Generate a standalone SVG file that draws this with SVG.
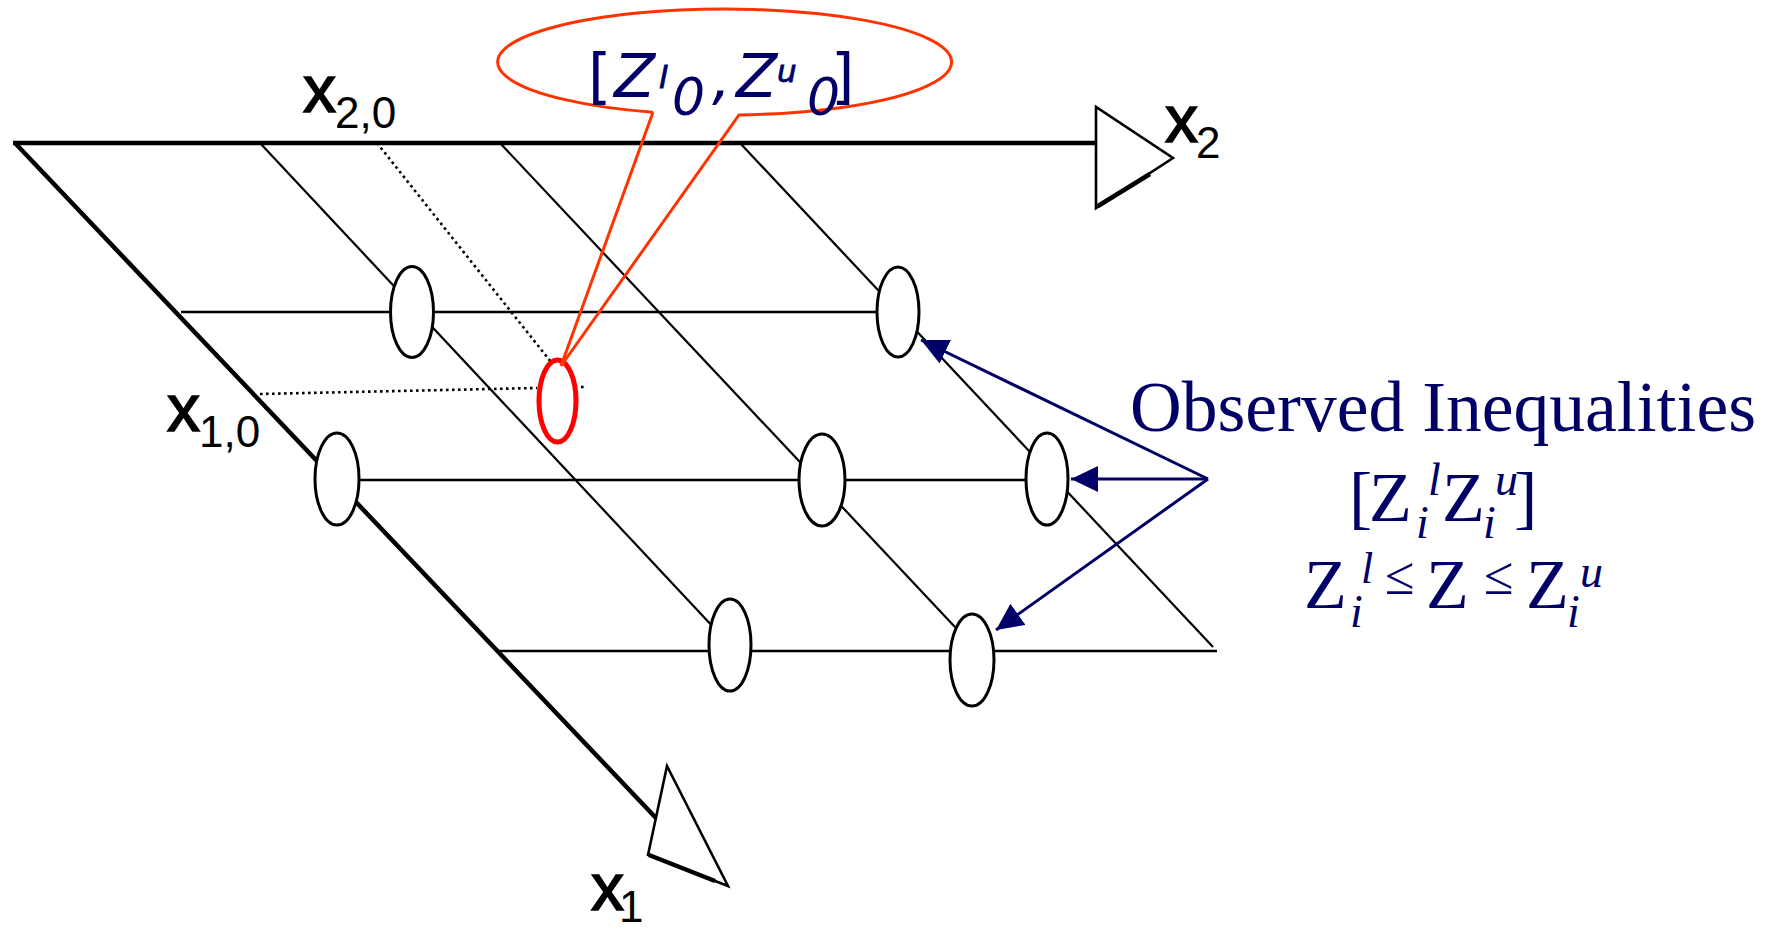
<svg xmlns="http://www.w3.org/2000/svg" width="1772" height="930" viewBox="0 0 1772 930">
<style>
.axis{stroke:#000;stroke-width:4.5;fill:none;stroke-linecap:butt}
.grid{stroke:#000;stroke-width:2.2;fill:none}
.row{stroke:#000;stroke-width:2.6;fill:none}
.dot{stroke:#000;stroke-width:2.6;fill:none;stroke-dasharray:2.6 3.4}
.node{fill:#fff;stroke:#000;stroke-width:3}
.tri{fill:#fff;stroke:#000;stroke-width:2.6;stroke-linejoin:miter}
.lbl{font-family:"Liberation Sans",Arial,sans-serif;fill:#000}
.bx{stroke:#000;stroke-width:1.6}
.nav{stroke:#000066;stroke-width:3;fill:none}
.serif{font-family:"Liberation Serif","Times New Roman",serif;fill:#000066}
.verd{font-family:"DejaVu Sans",Verdana,sans-serif;fill:#000066}
</style>
<defs>
<marker id="ah" markerUnits="userSpaceOnUse" markerWidth="30" markerHeight="28" refX="27" refY="13" orient="auto">
<path d="M0,0 L27,13 L0,26 Z" fill="#000066"/>
</marker>
</defs>
<rect width="1772" height="930" fill="#fff"/>

<g id="axes">
<line class="axis" x1="13" y1="143" x2="1096" y2="143"/>
<line class="axis" x1="15" y1="143" x2="656" y2="818"/>
<polygon class="tri" points="1096,107 1096,208 1173,158"/>
<line stroke="#000" stroke-width="4.5" x1="1098" y1="206" x2="1150" y2="174"/>
<polygon class="tri" points="667,766 648,855 728,886"/>
<line stroke="#000" stroke-width="4.5" x1="649" y1="855" x2="715" y2="881"/>
</g>

<g id="connectors">
<line class="row" x1="181" y1="312" x2="878" y2="312"/>
<line class="row" x1="334" y1="480" x2="1047" y2="480"/>
<line class="row" x1="497" y1="651" x2="1217" y2="651"/>
<line class="grid" x1="260" y1="143" x2="730" y2="645"/>
<line class="grid" x1="500" y1="143" x2="986" y2="660"/>
<line class="grid" x1="740" y1="143" x2="1213" y2="647"/>
<line class="dot" x1="377" y1="143" x2="551" y2="362"/>
<line class="dot" x1="260" y1="394" x2="537" y2="388"/>
<line class="dot" x1="581" y1="387" x2="585" y2="387"/>
<line class="nav" x1="1208" y1="479" x2="921" y2="340" marker-end="url(#ah)"/>
<line class="nav" x1="1208" y1="479" x2="1071" y2="479" marker-end="url(#ah)"/>
<line class="nav" x1="1208" y1="479" x2="996" y2="630" marker-end="url(#ah)"/>
</g>

<g id="node-r1-left"><ellipse class="node" cx="412" cy="312" rx="21.5" ry="45.5"/></g>
<g id="node-r1-right"><ellipse class="node" cx="898" cy="312" rx="21" ry="45"/></g>
<g id="node-r2-left"><ellipse class="node" cx="337" cy="479" rx="22" ry="46"/></g>
<g id="node-r2-mid"><ellipse class="node" cx="822" cy="480" rx="23" ry="46"/></g>
<g id="node-r2-right"><ellipse class="node" cx="1047" cy="479" rx="21" ry="46"/></g>
<g id="node-r3-left"><ellipse class="node" cx="730" cy="645" rx="21" ry="46"/></g>
<g id="node-r3-right"><ellipse class="node" cx="972" cy="660" rx="22" ry="46"/></g>
<g id="node-target"><ellipse cx="557.5" cy="401" rx="18.5" ry="41" fill="none" stroke="#ff0000" stroke-width="5"/></g>

<g id="callout">
<path d="M653,112.3 L561,366 L739,114.9 A227,53 0 1 0 653,112.3" fill="none" stroke="#ff3300" stroke-width="3" stroke-linejoin="miter"/>
<text class="verd" x="588" y="97" font-size="60">[</text>
<text class="verd" x="614" y="97" font-size="60" font-style="italic">Z</text>
<text class="verd" x="659" y="88" font-size="31" font-style="italic" stroke="#000066" stroke-width="1">l</text>
<text class="verd" x="672" y="115" font-size="52" font-style="italic">0</text>
<text class="verd" x="712" y="98" font-size="60" font-style="italic">,</text>
<text class="verd" x="736" y="97" font-size="60" font-style="italic">Z</text>
<text class="verd" x="777" y="82" font-size="31" font-style="italic" stroke="#000066" stroke-width="0.8">u</text>
<text class="verd" x="807" y="115" font-size="52" font-style="italic">0</text>
<text class="verd" x="831" y="97" font-size="60">]</text>
</g>

<g id="labels">
<text class="lbl bx" x="1165" y="142" font-size="66">x</text>
<text class="lbl" x="1196" y="158" font-size="44">2</text>
<text class="lbl bx" x="303" y="112" font-size="66">x</text>
<text class="lbl" x="335" y="128" font-size="44">2,0</text>
<text class="lbl bx" x="167" y="431" font-size="66">x</text>
<text class="lbl" x="199" y="447" font-size="44">1,0</text>
<text class="lbl bx" x="591" y="910" font-size="66">x</text>
<text class="lbl" x="619" y="922" font-size="44">1</text>
</g>

<g id="observed">
<text class="serif" x="1130" y="431" font-size="72" textLength="626" lengthAdjust="spacingAndGlyphs">Observed Inequalities</text>
<text class="serif" x="1349" y="521" font-size="70">[</text>
<text class="serif" x="1369" y="521" font-size="70">Z</text>
<text class="serif" x="1416" y="538" font-size="46" font-style="italic">i</text>
<text class="serif" x="1428" y="495" font-size="46" font-style="italic">l</text>
<text class="serif" x="1442" y="521" font-size="70">Z</text>
<text class="serif" x="1483" y="538" font-size="46" font-style="italic">i</text>
<text class="serif" x="1495" y="495" font-size="46" font-style="italic">u</text>
<text class="serif" x="1514" y="521" font-size="70">]</text>
<text class="serif" x="1304" y="608" font-size="70">Z</text>
<text class="serif" x="1350" y="627" font-size="46" font-style="italic">i</text>
<text class="serif" x="1361" y="583" font-size="44" font-style="italic">l</text>
<text class="serif" x="1385" y="594" font-size="54">≤</text>
<text class="serif" x="1426" y="608" font-size="70">Z</text>
<text class="serif" x="1484" y="594" font-size="54">≤</text>
<text class="serif" x="1526" y="608" font-size="70">Z</text>
<text class="serif" x="1567" y="627" font-size="46" font-style="italic">i</text>
<text class="serif" x="1580" y="587" font-size="46" font-style="italic">u</text>
</g>
</svg>
